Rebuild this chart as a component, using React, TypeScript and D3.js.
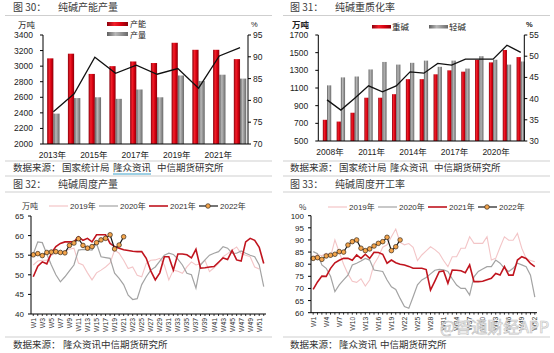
import React from "react";
import * as d3 from "d3";

const NUM = "'Liberation Sans', Arial, 'Noto Sans CJK SC', sans-serif";
const CJK = "'Noto Sans CJK SC', 'Liberation Sans', sans-serif";

// 图30 纯碱产能产量
const years30 = ["2013年", "2014年", "2015年", "2016年", "2017年", "2018年", "2019年", "2020年", "2021年", "2022年"];
const capacity30 = [3100, 3160, 2900, 3000, 3060, 3040, 3300, 3210, 3210, 3090];
const output30 = [2390, 2590, 2600, 2580, 2700, 2600, 2880, 2810, 2890, 2840];
const rate30 = [77.4, 81.5, 89.9, 86.2, 88.1, 86.0, 87.3, 82.8, 90.2, 92.1];
const ticks30 = ["2013年", "2015年", "2017年", "2019年", "2021年"];

// 图31 纯碱重质化率
const years31 = ["2008年", "2009年", "2010年", "2011年", "2012年", "2013年", "2014年", "2015年", "2016年", "2017年", "2018年", "2019年", "2020年", "2021年", "2022年"];
const heavy31 = [740, 720, 820, 990, 990, 1030, 1200, 1200, 1255, 1300, 1285, 1420, 1390, 1530, 1450];
const light31 = [1130, 1220, 1230, 1310, 1395, 1365, 1385, 1410, 1340, 1410, 1320, 1460, 1420, 1365, 1400];
const rate31 = [39.7, 37.3, 40.1, 43.0, 41.6, 43.0, 46.3, 46.0, 48.3, 47.9, 49.3, 49.3, 49.3, 52.6, 50.9];
const ticks31 = ["2008年", "2011年", "2014年", "2017年", "2020年"];

// weekly categories
const weeks = Array.from({ length: 52 }, (_, i) => `W${i + 1}`);

// 图32 纯碱周度产量 (万吨)
const prod2019 = [52.5, 53.5, 53.7, 53.7, 55, 55.5, 55.6, 56, 56.5, 56.8, 53, 52.5, 50.5, 48.7, 50.5, 51.2, 52, 53, 56.3, 55.5, 53.7, 51.6, 52, 49.9, 49.5, 52.9, 53.7, 53.8, 54.2, 52.5, 48.7, 51.2, 50.9, 50.4, 52, 53.3, 52.5, 52.8, 53.7, 50.8, 51.8, 52.9, 54.6, 55.4, 56.3, 57.1, 55.4, 55, 54.6, 52, 51.5];
const prod2020 = [55.3, 58.4, 58.2, 55.3, 52.5, 50, 48.2, 49.5, 51, 52.5, 56.3, 56.5, 56.4, 56.3, 58, 54.6, 54.4, 54.2, 50.4, 49.1, 47.5, 44.8, 43.7, 43.9, 47.5, 49.5, 51.2, 52, 53.5, 55, 55.5, 55.2, 54, 52.5, 50.4, 50, 46.6, 52.5, 53.8, 55, 55.5, 55.9, 57.2, 56.8, 55.5, 55.5, 56.1, 55.5, 55, 54.6, 52.5, 47];
const prod2021 = [49.5, 52.2, 53.3, 52.8, 55.5, 57.2, 58, 58.4, 58.4, 58.4, 59.7, 58.8, 59.3, 58.4, 60.2, 60.2, 60.2, 58, 57.2, 56.8, 56.4, 56.2, 56, 55.9, 55.9, 54.2, 51, 48.7, 50.5, 54.6, 54.6, 51.2, 55.3, 55.3, 55.1, 54.3, 56.5, 51.7, 51.8, 52, 52.1, 53.2, 54.3, 53.9, 56.2, 53.8, 53.5, 58.4, 59.3, 58.8, 57, 52.9];
const prod2022 = [55.1, 55.4, 54.9, 55.7, 55.8, 55.9, 55.7, 55.6, 57.5, 58.1, 59.2, 57.5, 56.8, 57.2, 58.2, 58.9, 59.3, 60.2, 56.6, 57.6, 59.7];

// 图33 纯碱周度开工率 (%)
const rate2019 = [83, 84, 83.5, 84.5, 83, 90, 85, 80, 76, 73, 72.5, 74, 71, 73.5, 80, 83, 87, 88, 91.3, 94.5, 89, 88, 88.5, 87, 81.5, 83.8, 85.5, 87.2, 86, 84.5, 81.5, 79, 83.1, 83.1, 86.6, 86.6, 91.3, 88.6, 88.6, 88.6, 91.3, 81.7, 82.4, 87, 91.3, 89.9, 89.9, 92.7, 86.6, 82.4, 81.5, 81];
const rate2020 = [85.2, 84.3, 79.7, 78.3, 75, 68.7, 71.5, 73.5, 75.5, 79.7, 80.4, 81.3, 82.4, 81.7, 77.6, 77.3, 77, 73.5, 70.7, 69.6, 65.9, 62.5, 61.8, 66.6, 71.5, 73.5, 74.5, 76, 77.5, 77.9, 77.7, 77, 74, 71.4, 70, 70, 67.3, 74.8, 77, 78, 79, 79, 81.7, 80.4, 78.3, 77, 78.3, 80.4, 79.7, 79, 75.5, 66.4];
const rate2021 = [69.6, 72.7, 75.1, 75, 78.3, 80.6, 81.6, 82.4, 82.4, 81.6, 83.8, 82.4, 84.1, 82.4, 84.9, 84.8, 84.1, 80.4, 81.7, 80.6, 80, 79.7, 79.1, 78.3, 78.3, 78.3, 77.8, 69.3, 73, 76.9, 77.2, 72.1, 77.6, 77.5, 77.3, 76.5, 79.7, 72.8, 72.8, 73, 73.6, 74.2, 76.2, 75.5, 79, 75.5, 75.5, 81.7, 83.1, 82.4, 80.3, 79];
const rate2022 = [82.4, 82.7, 82, 83.4, 83.7, 84.1, 85.2, 85, 87.9, 89.3, 90, 86.6, 85.6, 86.3, 87.5, 88.6, 89.3, 91.1, 85.6, 87.2, 90];

const yearNames = ["2019年", "2020年", "2021年", "2022年"];
const C19 = "#f3c5c7";
const C20 = "#a3a3a3";
const C21 = "#c0141e";

function Title({ x, y, num, text }: { x: number; y: number; num: string; text: string }) {
  return (
    <g fill="#3c3c3c" fontFamily={CJK} fontSize={10}>
      <text x={x} y={y}>{num}</text>
      <text x={x + 45} y={y}>{text}</text>
    </g>
  );
}

function Rule({ x1, x2, y }: { x1: number; x2: number; y: number }) {
  return <line x1={x1} x2={x2} y1={y} y2={y} stroke="#cfcfcf" strokeWidth={1} />;
}

function BarPanel(p: any) {
  const x = d3.scaleBand<string>().domain(p.cats).range(p.band);
  const yl = d3.scaleLinear().domain(p.leftDom).range([p.yBot, p.yTop]);
  const yr = d3.scaleLinear().domain(p.rightDom).range([p.yBot, p.yTop]);
  const lt = d3.range(p.leftDom[0], p.leftDom[1] + 1, p.leftStep);
  const rt = d3.range(p.rightDom[0], p.rightDom[1] + 0.1, p.rightStep);
  const cx = (c: string) => (x(c) as number) + x.bandwidth() / 2;
  const line = d3.line<number>().x((_, i) => cx(p.cats[i])).y((v) => yr(v));
  return (
    <g>
      {p.cats.map((c: string, i: number) => (
        <g key={c}>
          <rect x={cx(c) - p.barW} y={yl(p.a[i])} width={p.barW} height={p.yBot - yl(p.a[i])} fill="url(#gRed)" />
          <rect x={cx(c)} y={yl(p.b[i])} width={p.barW} height={p.yBot - yl(p.b[i])} fill="url(#gGray)" />
        </g>
      ))}
      <path d={line(p.rate) || ""} fill="none" stroke="#111" strokeWidth={1.3} />
      <line x1={p.axL} x2={p.axL} y1={p.yTop} y2={p.yBot} stroke="#000" />
      <line x1={p.axR} x2={p.axR} y1={p.yTop} y2={p.yBot} stroke="#000" />
      <line x1={p.axL} x2={p.axR} y1={p.yBot} y2={p.yBot} stroke="#000" />
      {lt.map((t: number) => (
        <g key={"l" + t}>
          <line x1={p.axL - 3} x2={p.axL} y1={yl(t)} y2={yl(t)} stroke="#000" />
          <text x={p.axL - 10} y={yl(t) + 3} textAnchor="end" fontSize={8.5} fontFamily={NUM} fill="#222">{t}</text>
        </g>
      ))}
      {rt.map((t: number) => (
        <g key={"r" + t}>
          <line x1={p.axR} x2={p.axR + 3} y1={yr(t)} y2={yr(t)} stroke="#000" />
          <text x={p.axR + 5} y={yr(t) + 3} fontSize={8.5} fontFamily={NUM} fill="#222">{t}</text>
        </g>
      ))}
      {p.ticks.map((c: string) => (
        <text key={c} x={cx(c) + p.labelShift} y={p.yBot + 14} textAnchor="middle" fontSize={8.5} fontFamily={NUM} fill="#222">{c}</text>
      ))}
    </g>
  );
}

function Marker({ x, y }: { x: number; y: number }) {
  return <circle cx={x} cy={y} r={2.3} fill="#f4a54c" stroke="#3a2a1a" strokeWidth={0.7} />;
}

function WeeklyPanel(p: any) {
  const x = d3.scaleBand<string>().domain(weeks).range(p.band);
  const y = d3.scaleLinear().domain(p.dom).range([p.yBot, p.yTop]);
  const cx = (i: number) => (x(weeks[i]) as number) + x.bandwidth() / 2;
  const line = d3.line<number>().x((_, i) => cx(i)).y((v) => y(v));
  const yt = d3.range(p.dom[0], p.dom[1] + 0.1, p.step);
  const series = [
    { v: p.s19, c: C19, w: 1.1 },
    { v: p.s20, c: C20, w: 1.2 },
    { v: p.s21, c: C21, w: 1.6 },
  ];
  return (
    <g>
      {series.map((s, k) => (
        <path key={k} d={line(s.v) || ""} fill="none" stroke={s.c} strokeWidth={s.w} />
      ))}
      <path d={line(p.s22) || ""} fill="none" stroke="#1a1a1a" strokeWidth={1.2} />
      {p.s22.map((v: number, i: number) => (
        <Marker key={i} x={cx(i)} y={y(v)} />
      ))}
      <line x1={p.band[0]} x2={p.band[0]} y1={p.yTop} y2={p.yBot} stroke="#000" />
      <line x1={p.band[0]} x2={p.band[1]} y1={p.yBot} y2={p.yBot} stroke="#000" />
      {yt.map((t: number) => (
        <g key={t}>
          <line x1={p.band[0] - 3} x2={p.band[0]} y1={y(t)} y2={y(t)} stroke="#000" />
          <text x={p.band[0] - 7} y={y(t) + 3} textAnchor="end" fontSize={8} fontFamily={NUM} fill="#222">{t}</text>
        </g>
      ))}
      {weeks.map((w, i) => (
        <line key={w} x1={cx(i)} x2={cx(i)} y1={p.yBot} y2={p.yBot + 2} stroke="#000" strokeWidth={0.8} />
      ))}
      {weeks.map((w, i) =>
        i % p.every === 0 ? (
          <text key={"t" + w} transform={`translate(${cx(i) + 2.5},${p.yBot + 4}) rotate(-90)`} textAnchor="end" fontSize={6.8} fontFamily={NUM} fill="#333">{w}</text>
        ) : null
      )}
      <text x={p.unitX} y={p.legendY + 3} fontSize={8} fontFamily={CJK} fill="#333">{p.unit}</text>
      {yearNames.map((n, k) => {
        const lx = p.legendX + k * 50;
        const col = [C19, C20, C21, "#1a1a1a"][k];
        return (
          <g key={n}>
            <line x1={lx} x2={lx + 19} y1={p.legendY} y2={p.legendY} stroke={col} strokeWidth={k === 2 ? 1.6 : 1.2} />
            {k === 3 ? <Marker x={lx + 9} y={p.legendY} /> : null}
            <text x={lx + 21} y={p.legendY + 3} fontSize={8} fontFamily={NUM} fill="#333">{n}</text>
          </g>
        );
      })}
    </g>
  );
}

function Source({ x, y, parts }: { x: number; y: number; parts: [number, string][] }) {
  return (
    <g fontFamily={CJK} fontSize={9.5} fill="#333">
      <text x={x} y={y}>数据来源：</text>
      {parts.map(([dx, t]) => (
        <text key={t} x={x + dx} y={y}>{t}</text>
      ))}
    </g>
  );
}

export default function App() {
  return (
    <svg width={554} height={353} style={{ position: "absolute", left: 0, top: 0, background: "#fff" }}>
      <defs>
        <linearGradient id="gRed" x1="0" x2="1" y1="0" y2="0">
          <stop offset="0%" stopColor="#8c000c" />
          <stop offset="35%" stopColor="#f2202a" />
          <stop offset="65%" stopColor="#d80010" />
          <stop offset="100%" stopColor="#8a000a" />
        </linearGradient>
        <linearGradient id="gGray" x1="0" x2="1" y1="0" y2="0">
          <stop offset="0%" stopColor="#5e5e5e" />
          <stop offset="40%" stopColor="#b8b8b8" />
          <stop offset="100%" stopColor="#6a6a6a" />
        </linearGradient>
      </defs>
      <rect width={554} height={353} fill="#fff" />

      {/* 图30 */}
      <Title x={13} y={11} num="图 30：" text="纯碱产能产量" />
      <Rule x1={5} x2={272} y={15.5} />
      <text x={18} y={28} fontSize={8.5} fontFamily={CJK} fill="#222">万吨</text>
      <text x={251} y={27} fontSize={7.5} fontFamily={NUM} fill="#222">%</text>
      <rect x={107} y={22} width={21} height={4} fill="url(#gRed)" />
      <text x={130} y={27} fontSize={8} fontFamily={CJK} fill="#222">产能</text>
      <rect x={107} y={32} width={21} height={4} fill="url(#gGray)" />
      <text x={130} y={37.5} fontSize={8} fontFamily={CJK} fill="#222">产量</text>
      <BarPanel cats={years30} a={capacity30} b={output30} rate={rate30} ticks={ticks30}
        band={[43, 250.4]} axL={43} axR={248} yTop={35} yBot={144}
        leftDom={[2000, 3400]} leftStep={200} rightDom={[70, 95]} rightStep={5} barW={6.2} labelShift={-1} />
      <Rule x1={5} x2={272} y={161} />
      <Source x={13} y={171} parts={[[49, "国家统计局"], [100, "隆众资讯"], [144, "中信期货研究所"]]} />
      <line x1={113} x2={151} y1={174} y2={174} stroke="#3aa0c8" strokeWidth={1} />
      <Rule x1={5} x2={272} y={176} />

      {/* 图31 */}
      <Title x={290} y={11} num="图 31：" text="纯碱重质化率" />
      <Rule x1={283} x2={550} y={15.5} />
      <text x={292} y={28} fontSize={8.5} fontWeight="bold" fontFamily={CJK} fill="#222">万吨</text>
      <text x={526} y={27} fontSize={7.5} fontWeight="bold" fontFamily={NUM} fill="#222">%</text>
      <rect x={372} y={25} width={19} height={3.5} fill="url(#gRed)" />
      <text x={392} y={30} fontSize={8.5} fontFamily={CJK} fill="#222">重碱</text>
      <rect x={429} y={25} width={19} height={3.5} fill="url(#gGray)" />
      <text x={449} y={30} fontSize={8.5} fontFamily={CJK} fill="#222">轻碱</text>
      <BarPanel cats={years31} a={heavy31} b={light31} rate={rate31} ticks={ticks31}
        band={[320.1, 527.7]} axL={318.3} axR={524.3} yTop={35} yBot={141}
        leftDom={[500, 1700]} leftStep={200} rightDom={[30, 55]} rightStep={5} barW={4.2} labelShift={3} />
      <Rule x1={283} x2={550} y={161} />
      <Source x={290} y={171} parts={[[49, "国家统计局"], [100, "隆众资讯"], [144, "中信期货研究所"]]} />
      <Rule x1={283} x2={550} y={176} />

      {/* 图32 */}
      <Title x={13} y={188} num="图 32：" text="纯碱周度产量" />
      <Rule x1={5} x2={272} y={192} />
      <WeeklyPanel s19={prod2019} s20={prod2020} s21={prod2021} s22={prod2022}
        band={[31, 266]} yTop={216} yBot={314} dom={[40, 65]} step={5} every={2}
        unit="万吨" unitX={22} legendX={49} legendY={206} />
      <Rule x1={5} x2={272} y={337} />
      <Source x={13} y={348} parts={[[50, "隆众资讯"], [88, "中信期货研究所"]]} />

      {/* 图33 */}
      <Title x={290} y={188} num="图 33：" text="纯碱周度开工率" />
      <Rule x1={283} x2={550} y={192} />
      <WeeklyPanel s19={rate2019} s20={rate2020} s21={rate2021} s22={rate2022}
        band={[311, 537]} yTop={215.7} yBot={312.7} dom={[60, 100]} step={5} every={3}
        unit="%" unitX={299} legendX={328} legendY={207} />
      <Rule x1={283} x2={550} y={337} />
      <Source x={290} y={348} parts={[[49, "隆众资讯"], [90, "中信期货研究所"]]} />
      <text x={440} y={333} fontSize={16} fontFamily={CJK} fill="#fff" fillOpacity={0.7} stroke="#c4c4c4" strokeWidth={0.7}>@智通财经APP</text>
    </svg>
  );
}
